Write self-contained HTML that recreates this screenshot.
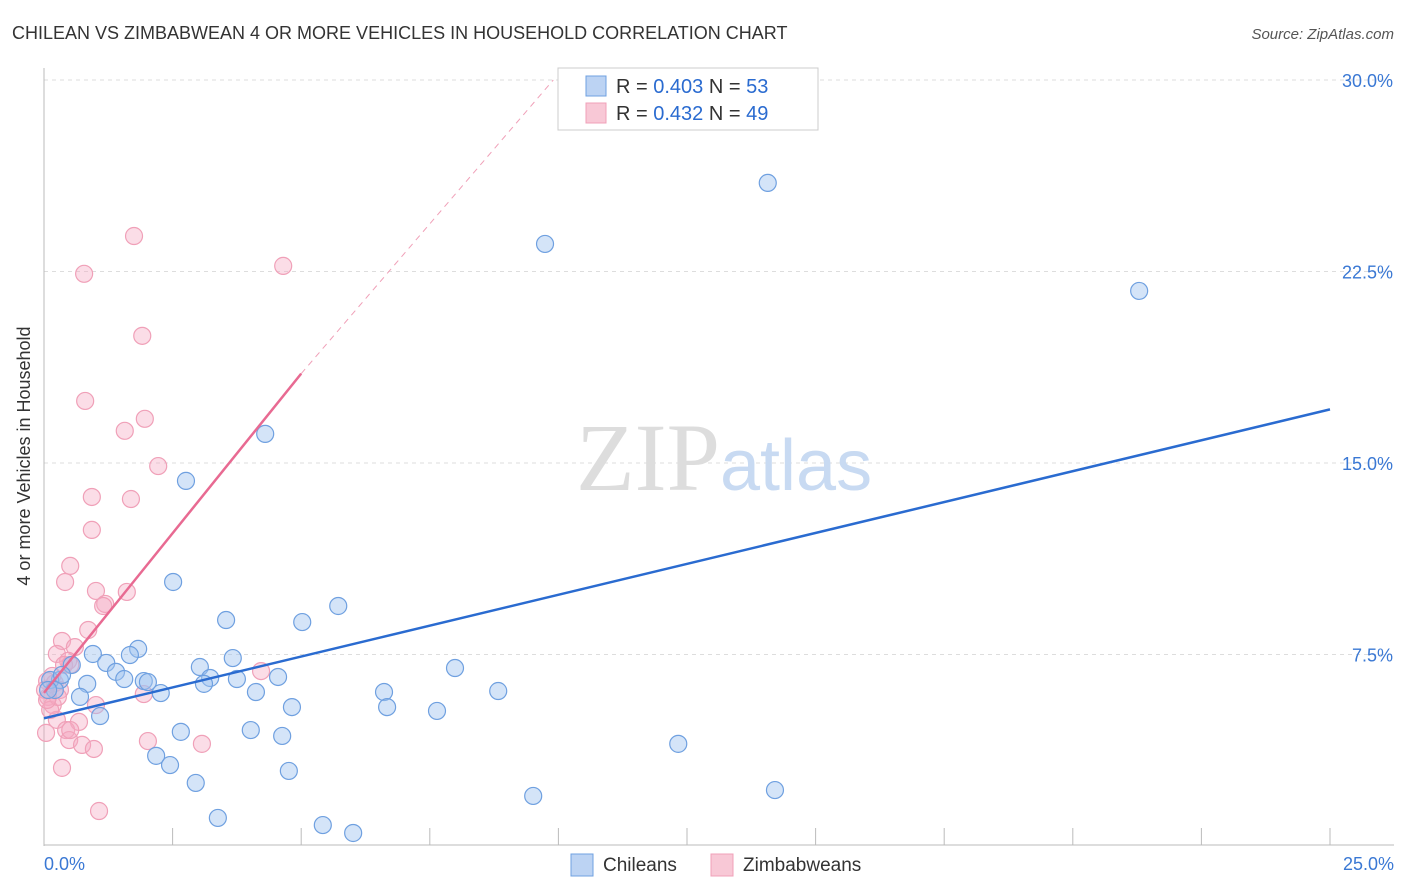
<!DOCTYPE html>
<html><head><meta charset="utf-8"><style>
body{margin:0;background:#fff;font-family:"Liberation Sans",sans-serif}
svg{display:block}
</style></head><body>
<svg id="c" width="1406" height="892">
<text x="12" y="39" font-size="18" fill="#333">CHILEAN VS ZIMBABWEAN 4 OR MORE VEHICLES IN HOUSEHOLD CORRELATION CHART</text>
<text x="1394" y="39" font-size="15" fill="#555" font-style="italic" text-anchor="end">Source: ZipAtlas.com</text>
<text x="30" y="456" font-size="18" fill="#333" text-anchor="middle" transform="rotate(-90 30 456)">4 or more Vehicles in Household</text>
<g id="grid"></g>
<text x="720" y="490" font-size="96" fill="#ddd" text-anchor="end" font-family="Liberation Serif">ZIP</text>
<text x="720" y="490" font-size="72" fill="#c8daf2">atlas</text>
<g id="pts"></g>
<g id="lines"></g>
<g>
<rect x="558" y="68" width="260" height="62" fill="#fff" stroke="#ccc"/>
<rect x="586" y="76" width="20" height="20" fill="#bcd3f3" stroke="#6fa0e0"/>
<text x="616" y="93" font-size="20" fill="#333">R = <tspan fill="#2a6bd0">0.403</tspan>   N = <tspan fill="#2a6bd0">53</tspan></text>
<rect x="586" y="103" width="20" height="20" fill="#f8c8d6" stroke="#f0a0b8"/>
<text x="616" y="120" font-size="20" fill="#333">R =  <tspan fill="#2a6bd0">0.432</tspan>   N = <tspan fill="#2a6bd0">49</tspan></text>
</g>
<g>
<rect x="571" y="854" width="22" height="22" fill="#bcd3f3" stroke="#6fa0e0"/>
<text x="603" y="871" font-size="19" fill="#333">Chileans</text>
<rect x="711" y="854" width="22" height="22" fill="#f8c8d6" stroke="#f0a0b8"/>
<text x="743" y="871" font-size="19" fill="#333">Zimbabweans</text>
</g>
</svg>
<script>
const yTicks=[7.5,15,22.5,30];
const xTickLabels=["0.0%","25.0%"];
const blueX=[],blueY=[],pinkX=[],pinkY=[];
const bluePx=[[768,183],[545,244],[1139,291],[265,434],[186,481],[173,582],[338,606],[226,620],[302,622],[138,649],[93,654],[130,655],[106,663],[72,665],[233,658],[200,667],[455,668],[116,672],[124,679],[144,681],[148,682],[210,678],[237,679],[278,677],[60,680],[50,680],[55,690],[87,684],[204,684],[161,693],[256,692],[384,692],[498,691],[80,697],[292,707],[387,707],[437,711],[100,716],[251,730],[181,732],[282,736],[678,744],[156,756],[170,765],[289,771],[196,783],[533,796],[775,790],[218,818],[323,825],[353,833],[48,690],[62,675]];
const pinkPx=[[134,236],[84,274],[283,266],[142,336],[85,401],[145,419],[125,431],[158,466],[92,497],[131,499],[92,530],[70,566],[65,582],[96,591],[127,592],[105,604],[103,606],[88,630],[62,641],[75,647],[57,654],[68,661],[64,665],[70,665],[261,671],[52,676],[47,681],[55,683],[60,690],[48,697],[53,705],[96,705],[57,720],[79,722],[66,730],[69,740],[148,741],[202,744],[82,745],[94,749],[46,733],[62,768],[99,811],[144,694],[50,710],[58,697],[45,690],[70,730],[47,700]];
// values in percent
bluePx.forEach(p=>{blueX.push(+((p[0]-44)/1286*25).toFixed(2));blueY.push(+((846-p[1])/25.53).toFixed(2));});
pinkPx.forEach(p=>{pinkX.push(+((p[0]-44)/1286*25).toFixed(2));pinkY.push(+((846-p[1])/25.53).toFixed(2));});
const blueLine=[[0,5.0],[25,17.1]];
const pinkLine=[[0,6.0],[5,18.5]];
const pinkDash=[[5,18.5],[9.9,30]];
const X=v=>44+v/25*1286, Y=v=>846-v*25.533;
const NS="http://www.w3.org/2000/svg";
function mk(t,a,p){const e=document.createElementNS(NS,t);for(const k in a)e.setAttribute(k,a[k]);p.appendChild(e);return e;}
const g=document.getElementById('grid');
yTicks.forEach(v=>{
 const l=mk('line',{x1:44,x2:1394,y1:Y(v),y2:Y(v),stroke:'#ddd','stroke-dasharray':'4 4'},g);
 
 
 const t=mk('text',{x:1393,y:Y(v)+7,'font-size':18,fill:'#3a78d4','text-anchor':'end'},g);
 t.textContent=v.toFixed(1)+'%';
 
 
});
mk('line',{x1:44,x2:44,y1:68,y2:846,stroke:'#bbb'},g);
mk('line',{x1:44,x2:1394,y1:845,y2:845,stroke:'#bbb'},g);
for(let i=0;i<=10;i++){const tk=mk('line',{x1:X(i*2.5),x2:X(i*2.5),y1:828,y2:845,stroke:'#bbb'},g);
 
 }
const t0=mk('text',{x:44,y:870,'font-size':18,fill:'#3a78d4'},g);t0.textContent=xTickLabels[0];


const t1=mk('text',{x:1394,y:870,'font-size':18,fill:'#3a78d4','text-anchor':'end'},g);t1.textContent=xTickLabels[1];


const P=document.getElementById('pts');
pinkX.forEach((x,i)=>{const c=mk('circle',{cx:X(x),cy:Y(pinkY[i]),r:8.5,fill:'rgba(245,170,195,0.4)',stroke:'#f0a0b8','stroke-width':1.2},P);
 
 });
blueX.forEach((x,i)=>{const c=mk('circle',{cx:X(x),cy:Y(blueY[i]),r:8.5,fill:'rgba(160,195,240,0.45)',stroke:'#6fa0e0','stroke-width':1.2},P);
 
 });
const L=document.getElementById('lines');
const bl=mk('line',{x1:X(blueLine[0][0]),y1:Y(blueLine[0][1]),x2:X(blueLine[1][0]),y2:Y(blueLine[1][1]),stroke:'#2a6bd0','stroke-width':2.5},L);


const pl=mk('line',{x1:X(pinkLine[0][0]),y1:Y(pinkLine[0][1]),x2:X(pinkLine[1][0]),y2:Y(pinkLine[1][1]),stroke:'#e86a92','stroke-width':2.5},L);


const pd=mk('line',{x1:X(pinkDash[0][0]),y1:Y(pinkDash[0][1]),x2:X(pinkDash[1][0]),y2:Y(pinkDash[1][1]),stroke:'#f0a0b8','stroke-width':1,'stroke-dasharray':'6 5'},L);


</script>
</body></html>
